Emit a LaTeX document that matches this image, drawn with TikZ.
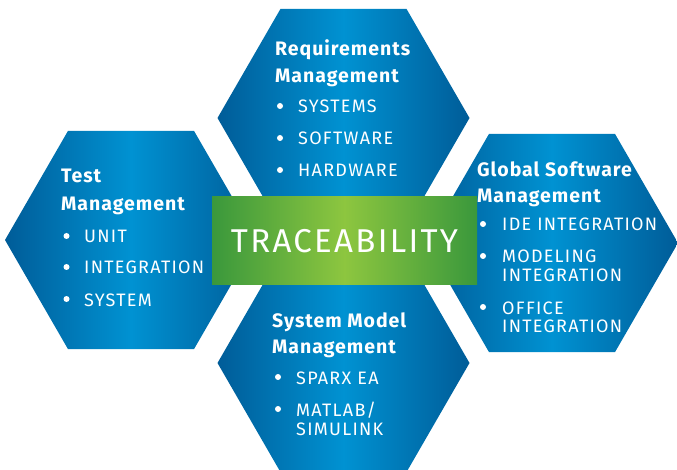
\documentclass[tikz,border=0pt]{standalone}
\usepackage{fontspec}
\setmainfont{Fira Sans}
\usetikzlibrary{shapes.geometric}
\definecolor{hexdark}{RGB}{0,92,152}
\definecolor{hexlight}{RGB}{0,146,210}
\definecolor{grdark}{RGB}{58,152,60}
\definecolor{grlight}{RGB}{141,198,63}

\begin{document}
\begin{tikzpicture}
[x=1pt,y=-1pt,
hexa/.style={regular polygon,regular polygon sides=6,minimum size=252pt,inner sep=0pt,draw=none,left color=hexdark,right color=hexdark,middle color=hexlight},
head/.style={anchor=base west,inner sep=0pt,text=white,font=\fontsize{19.5}{23}\selectfont\bfseries\addfontfeature{LetterSpace=5}},
item/.style={anchor=base west,inner sep=0pt,text=white,font=\fontsize{18}{22}\selectfont\addfontfeature{LetterSpace=7}},
bul/.style={circle,fill=white,draw=none,inner sep=0pt,minimum size=6pt},
trace/.style={rectangle,draw=none,left color=grdark,right color=grdark,middle color=grlight,minimum width=265pt,minimum height=88pt,text=white,font=\fontsize{33}{40}\selectfont\addfontfeature{LetterSpace=7}}]
\useasboundingbox (0,0) rectangle (677,470);

% the four hexagons
\node[hexa] (req)   at (343.5,118) {};
\node[hexa] (test)  at (131,240) {};
\node[hexa] (glob)  at (552,243) {};
\node[hexa] (model) at (343.5,363) {};

% requirements
\node[head] (reqa) at (275,56) {Requirements};
\node[head] (reqb) at (275,83) {Management};
\node[bul] (reqd1) at (280,106) {};
\node[item] (req1) at (298,113) {SYSTEMS};
\node[bul] (reqd2) at (280,138) {};
\node[item] (req2) at (298,145) {SOFTWARE};
\node[bul] (reqd3) at (280,170) {};
\node[item] (req3) at (298,177) {HARDWARE};

% test
\node[head] (testa) at (61,183) {Test};
\node[head] (testb) at (61,211) {Management};
\node[bul] (testd1) at (66.5,236) {};
\node[item] (test1) at (84,243) {UNIT};
\node[bul] (testd2) at (66.5,267) {};
\node[item] (test2) at (84,274) {INTEGRATION};
\node[bul] (testd3) at (66.5,299) {};
\node[item] (test3) at (84,306) {SYSTEM};

% global software
\node[head] (globa) at (477,177) {Global Software};
\node[head] (globb) at (477,203) {Management};
\node[bul] (globd1) at (483,224) {};
\node[item] (glob1) at (502,231) {IDE INTEGRATION};
\node[bul] (globd2) at (483,256) {};
\node[item] (glob2) at (502,263) {MODELING};
\node[item] (glob3) at (502,282) {INTEGRATION};
\node[bul] (globd3) at (483,307) {};
\node[item] (glob4) at (502,314) {OFFICE};
\node[item] (glob5) at (502,332) {INTEGRATION};

% system model
\node[head] (moda) at (272,327) {System Model};
\node[head] (modb) at (272,353) {Management};
\node[bul] (modd1) at (278,377) {};
\node[item] (mod1) at (296,384) {SPARX EA};
\node[bul] (modd2) at (278,409) {};
\node[item] (mod2) at (296,416) {MATLAB/};
\node[item] (mod3) at (296,435) {SIMULINK};

% centre bar
\node[trace] (tr) at (344.5,241) {TRACEABILITY};
\end{tikzpicture}
\end{document}
